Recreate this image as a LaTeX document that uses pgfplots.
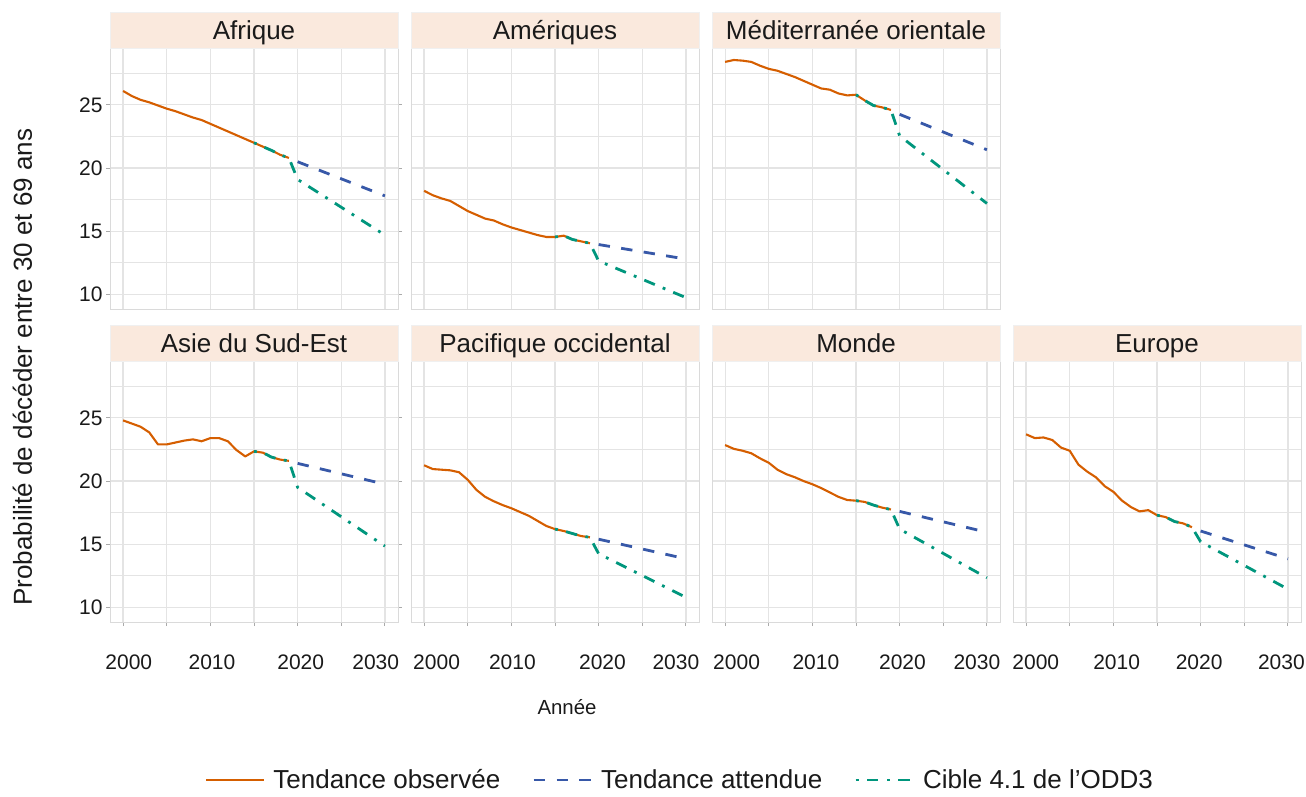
\documentclass[border=0pt]{standalone}
\usepackage{fontspec}
\setmainfont{Liberation Sans}
\usepackage{pgfplots}
\pgfplotsset{compat=1.18}
\definecolor{obsc}{RGB}{213,94,0}
\definecolor{expc}{RGB}{55,88,168}
\definecolor{tgtc}{RGB}{0,150,125}
\definecolor{stripc}{RGB}{250,233,221}
\definecolor{gridc}{RGB}{228,228,228}
\definecolor{framec}{RGB}{218,218,218}
\definecolor{tickc}{RGB}{170,170,170}
\definecolor{textc}{RGB}{26,26,26}
\tikzset{strip/.style={anchor=south, fill=stripc, draw=gray!12,
      minimum width=288pt, minimum height=36pt, inner sep=0pt,
      text height=18.5pt, text depth=0pt,
      font=\fontsize{26}{30}\selectfont, text=textc}}
\pgfplotsset{
  panel/.style={
    scale only axis, width=288pt, height=261pt,
    xmin=1998.5, xmax=2031.5, ymin=8.85, ymax=29.5,
    xtick={2000,2005,...,2030}, ytick={10,15,20,25},
    minor ytick={12.5,17.5,22.5,27.5},
    grid=both,
    major grid style={draw=gridc, line width=1.2pt},
    minor grid style={draw=gridc, line width=1.2pt},
    axis line style={draw=framec, line width=0.9pt},
    tick align=outside, major tick length=4pt, minor tick length=0pt,
    xtick style={draw=none}, ytick style={draw=none},
    xticklabels={}, yticklabels={},
    tick label style={font=\fontsize{21}{25}\selectfont, text=textc},
    clip=false,
  },
  ylab/.style={yticklabels={10,15,20,25}, ytick style={draw=tickc, line width=0.9pt}},
  xlab/.style={xticklabels={#1}, xtick style={draw=tickc, line width=0.9pt},
    xticklabel style={yshift=-25pt}},
  obs/.style={draw=obsc, line width=2.1pt, line join=round},
  exp/.style={draw=expc, line width=2.8pt, dash pattern=on 11.4pt off 11.4pt},
  tgt/.style={draw=tgtc, line width=2.8pt, dash pattern=on 2.85pt off 8.55pt on 11.4pt off 8.55pt},
}
\begin{document}
\begin{tikzpicture}[x=1pt,y=1pt]
\useasboundingbox (0,0) rectangle (1306,796);
% ---------------- Row 1 ----------------
\begin{axis}[panel, ylab, at={(110pt,487pt)}, anchor=south west]
\addplot[obs] coordinates {(2000,26.1)(2001,25.7)(2002,25.4)(2003,25.2)(2004,24.95)(2005,24.7)(2006,24.5)(2007,24.25)(2008,24.0)(2009,23.8)(2010,23.5)(2011,23.2)(2012,22.9)(2013,22.6)(2014,22.3)(2015,22.0)(2016,21.7)(2017,21.4)(2018,21.05)(2019,20.8)};
\addplot[exp] coordinates {(2020,20.5)(2030,17.8)};
\addplot[tgt] coordinates {(2015,22.0)(2016,21.7)(2017,21.4)(2018,21.05)(2019,20.8)(2020,19.1)(2030,14.7)};
\node[strip] at (rel axis cs:0.5,1) {Afrique};
\end{axis}
\begin{axis}[panel, at={(411pt,487pt)}, anchor=south west]
\addplot[obs] coordinates {(2000,18.2)(2001,17.85)(2002,17.6)(2003,17.4)(2004,17.0)(2005,16.6)(2006,16.3)(2007,16.0)(2008,15.85)(2009,15.55)(2010,15.3)(2011,15.1)(2012,14.9)(2013,14.7)(2014,14.55)(2015,14.55)(2016,14.65)(2017,14.35)(2018,14.2)(2019,14.05)};
\addplot[exp] coordinates {(2020,13.95)(2030,12.8)};
\addplot[tgt] coordinates {(2015,14.55)(2016,14.65)(2017,14.35)(2018,14.2)(2019,14.05)(2020,12.65)(2030,9.75)};
\node[strip] at (rel axis cs:0.5,1) {Amériques};
\end{axis}
\begin{axis}[panel, at={(712pt,487pt)}, anchor=south west]
\addplot[obs] coordinates {(2000,28.4)(2001,28.55)(2002,28.5)(2003,28.4)(2004,28.1)(2005,27.85)(2006,27.7)(2007,27.45)(2008,27.2)(2009,26.9)(2010,26.6)(2011,26.3)(2012,26.2)(2013,25.9)(2014,25.75)(2015,25.8)(2016,25.35)(2017,24.95)(2018,24.8)(2019,24.6)};
\addplot[exp] coordinates {(2020,24.25)(2030,21.45)};
\addplot[tgt] coordinates {(2015,25.8)(2016,25.35)(2017,24.95)(2018,24.8)(2019,24.6)(2020,22.55)(2030,17.2)};
\node[strip] at (rel axis cs:0.5,1) {Méditerranée orientale};
\end{axis}
% ---------------- Row 2 ----------------
\begin{axis}[panel, ylab, xlab={{\kern11.4pt 2000},{},{\kern3.2pt 2010},{},{\kern6.2pt 2020},{},{2030\kern18.4pt}},
  at={(110pt,174pt)}, anchor=south west]
\addplot[obs] coordinates {(2000,24.8)(2001,24.55)(2002,24.3)(2003,23.85)(2004,22.9)(2005,22.9)(2006,23.05)(2007,23.2)(2008,23.3)(2009,23.15)(2010,23.4)(2011,23.4)(2012,23.15)(2013,22.45)(2014,21.95)(2015,22.35)(2016,22.25)(2017,21.9)(2018,21.7)(2019,21.6)};
\addplot[exp] coordinates {(2020,21.4)(2030,19.75)};
\addplot[tgt] coordinates {(2015,22.35)(2016,22.25)(2017,21.9)(2018,21.7)(2019,21.6)(2020,19.5)(2030,14.85)};
\node[strip] at (rel axis cs:0.5,1) {Asie du Sud-Est};
\end{axis}
\begin{axis}[panel, xlab={{\kern25pt 2000},{},{\kern2pt 2010},{},{\kern7.6pt 2020},{},{2030\kern20pt}},
  at={(411pt,174pt)}, anchor=south west]
\addplot[obs] coordinates {(2000,21.25)(2001,20.95)(2002,20.9)(2003,20.85)(2004,20.7)(2005,20.1)(2006,19.3)(2007,18.75)(2008,18.4)(2009,18.1)(2010,17.85)(2011,17.55)(2012,17.25)(2013,16.85)(2014,16.45)(2015,16.2)(2016,16.05)(2017,15.85)(2018,15.65)(2019,15.55)};
\addplot[exp] coordinates {(2020,15.4)(2030,13.85)};
\addplot[tgt] coordinates {(2015,16.2)(2016,16.05)(2017,15.85)(2018,15.65)(2019,15.55)(2020,14.25)(2030,10.8)};
\node[strip] at (rel axis cs:0.5,1) {Pacifique occidental};
\end{axis}
\begin{axis}[panel, xlab={{\kern23pt 2000},{},{\kern7pt 2010},{},{\kern5.6pt 2020},{},{2030\kern20pt}},
  at={(712pt,174pt)}, anchor=south west]
\addplot[obs] coordinates {(2000,22.85)(2001,22.55)(2002,22.4)(2003,22.2)(2004,21.8)(2005,21.45)(2006,20.9)(2007,20.55)(2008,20.3)(2009,20.0)(2010,19.75)(2011,19.45)(2012,19.1)(2013,18.75)(2014,18.5)(2015,18.45)(2016,18.35)(2017,18.1)(2018,17.9)(2019,17.75)};
\addplot[exp] coordinates {(2020,17.6)(2030,15.95)};
\addplot[tgt] coordinates {(2015,18.45)(2016,18.35)(2017,18.1)(2018,17.9)(2019,17.75)(2020,16.2)(2030,12.35)};
\node[strip] at (rel axis cs:0.5,1) {Monde};
\end{axis}
\begin{axis}[panel, xlab={{\kern19.4pt 2000},{},{\kern6.6pt 2010},{},{2020\kern3pt},{},{2030\kern13pt}},
  at={(1013pt,174pt)}, anchor=south west,
  legend columns=3,
  legend style={at={(-1.156,-0.605)}, anchor=center, draw=none, fill=none,
    font=\fontsize{26}{30}\selectfont, text=textc, inner sep=0pt,
    /tikz/every odd column/.append style={column sep=6pt},
    /tikz/every even column/.append style={column sep=30pt}},
  legend image code/.code={\draw[#1] (0pt,0pt) -- (58pt,0pt);},
  legend cell align=left]
\addplot[obs] coordinates {(2000,23.7)(2001,23.4)(2002,23.45)(2003,23.25)(2004,22.65)(2005,22.4)(2006,21.3)(2007,20.75)(2008,20.3)(2009,19.6)(2010,19.15)(2011,18.45)(2012,17.95)(2013,17.6)(2014,17.7)(2015,17.3)(2016,17.15)(2017,16.8)(2018,16.65)(2019,16.35)};
\addplot[exp] coordinates {(2020,16.05)(2030,13.85)};
\addplot[tgt] coordinates {(2015,17.3)(2016,17.15)(2017,16.8)(2018,16.65)(2019,16.35)(2020,15.2)(2030,11.45)};
\legend{Tendance observée, Tendance attendue, Cible 4.1 de l’ODD3}
\node[strip] at (rel axis cs:0.5,1) {Europe};
\end{axis}
% ---------------- labels ----------------
\node[rotate=90, font=\fontsize{26}{30}\selectfont, text=textc] at (22.5,429) {Probabilité de décéder entre 30 et 69 ans};
\node[font=\fontsize{20.4}{24}\selectfont, text=textc] at (567,89) {Année};
\end{tikzpicture}
\end{document}
